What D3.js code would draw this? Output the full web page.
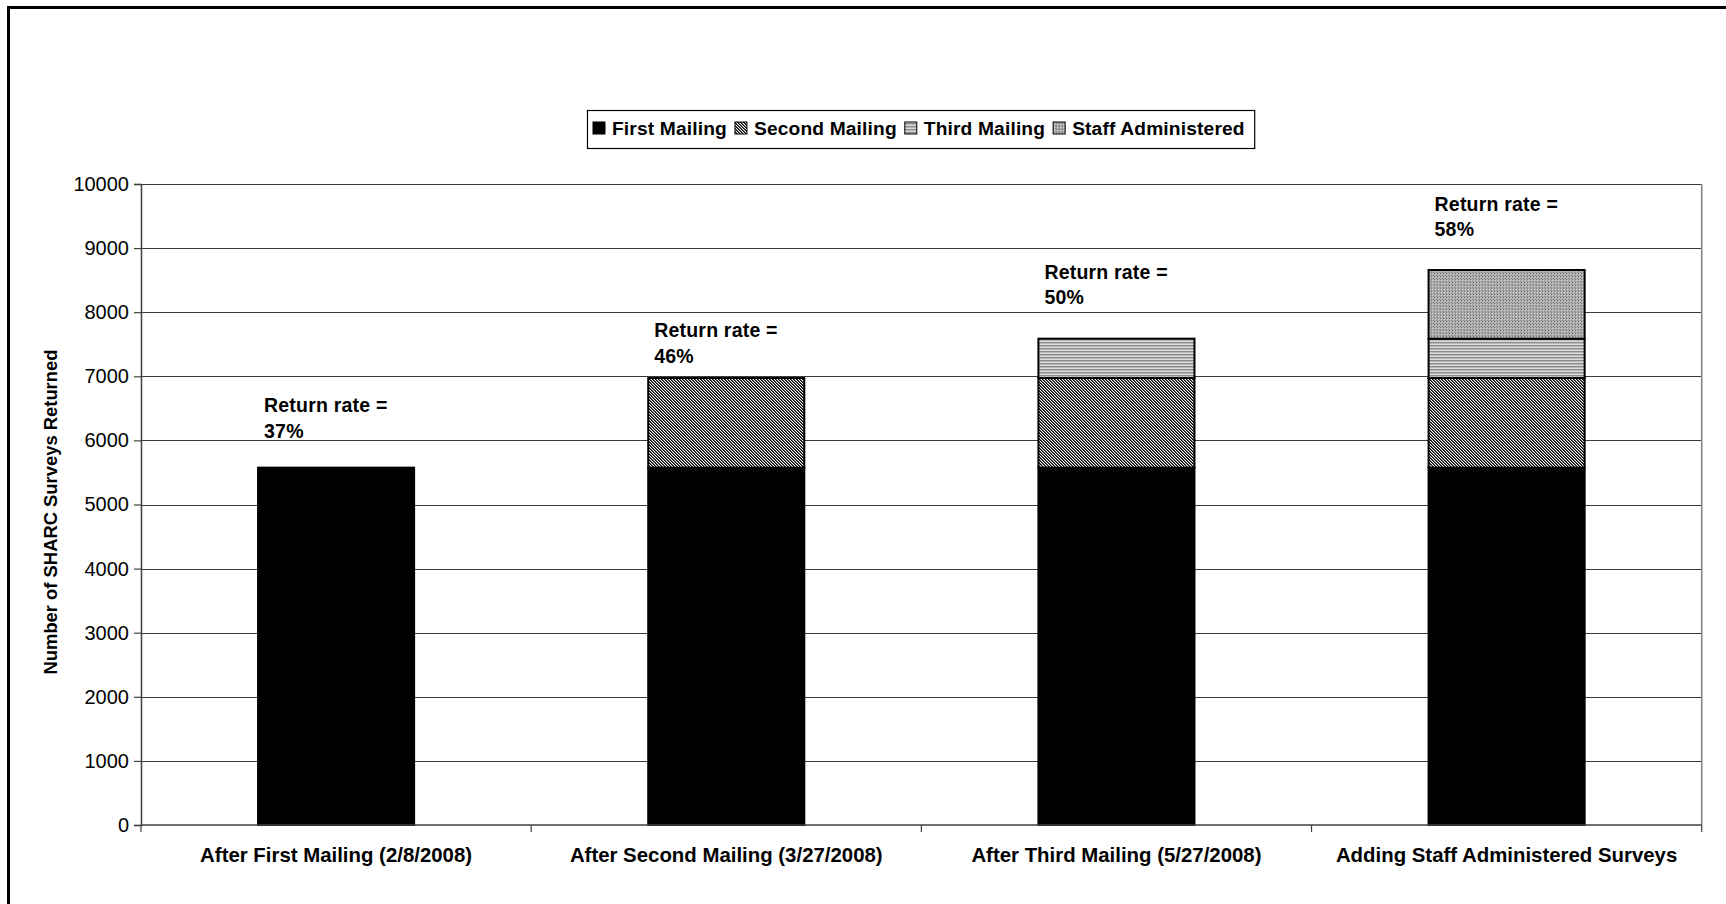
<!DOCTYPE html>
<html>
<head>
<meta charset="utf-8">
<script src="https://cdn.jsdelivr.net/npm/d3@7"></script>
<style>
  html, body { margin: 0; padding: 0; background: #fff; }
  svg { display: block; }
  text { font-family: "Liberation Sans", Arial, sans-serif; }
</style>
</head>
<body>
<svg id="chart" width="1726" height="904"></svg>
<script>
// ---- data ----
const categories = [
  "After First Mailing (2/8/2008)",
  "After Second Mailing (3/27/2008)",
  "After Third Mailing (5/27/2008)",
  "Adding Staff Administered Surveys"
];
const seriesNames = ["First Mailing", "Second Mailing", "Third Mailing", "Staff Administered"];
const firstMailing = [5575, 5575, 5575, 5575];
const secondMailing = [0, 1398, 1398, 1398];
const thirdMailing = [0, 0, 614, 614];
const staffAdministered = [0, 0, 0, 1071];
const returnRates = ["37%", "46%", "50%", "58%"];
const labelAnchor = [6440, 7610, 8520, 9585]; // value at first label line baseline
const yTicks = [0, 1000, 2000, 3000, 4000, 5000, 6000, 7000, 8000, 9000, 10000];

// ---- setup ----
const svg = d3.select("#chart");
const W = 1726, H = 904;
const plot = { left: 141, right: 1701.7, top: 184, bottom: 825 };

// outer border (right/bottom edges lie outside the picture)
svg.append("rect")
  .attr("x", 8.5).attr("y", 7.5)
  .attr("width", W + 20).attr("height", H + 20)
  .attr("fill", "none").attr("stroke", "#000").attr("stroke-width", 3);

// ---- patterns ----
const defs = svg.append("defs");
function pixelPattern(id, size, bg, pixels) {
  const p = defs.append("pattern").attr("id", id)
    .attr("patternUnits", "userSpaceOnUse")
    .attr("width", size[0]).attr("height", size[1]);
  p.append("rect").attr("width", size[0]).attr("height", size[1]).attr("fill", bg);
  pixels.forEach(px => p.append("rect")
    .attr("x", px[0]).attr("y", px[1]).attr("width", 1).attr("height", 1)
    .attr("fill", px[2]).attr("shape-rendering", "crispEdges"));
}
// second mailing: fine diagonal dither
{
  const px = [];
  for (let x = 0; x < 3; x++) for (let y = 0; y < 3; y++) {
    const m = ((x - y) % 3 + 3) % 3;
    if (m === 0) px.push([x, y, "#000"]);
    else if (m === 1) px.push([x, y, "#5a5a5a"]);
  }
  pixelPattern("pSecond", [3, 3], "#fff", px);
}
// third mailing: horizontal grey stripes
{
  const p = defs.append("pattern").attr("id", "pThird")
    .attr("patternUnits", "userSpaceOnUse").attr("width", 4).attr("height", 3);
  p.append("rect").attr("width", 4).attr("height", 3).attr("fill", "#dcdcdc");
  p.append("rect").attr("y", 0).attr("width", 4).attr("height", 1).attr("fill", "#8a8a8a");
  p.append("rect").attr("y", 1).attr("width", 4).attr("height", 1).attr("fill", "#b8b8b8");
}
// staff administered: dotted grey
pixelPattern("pStaff", [3, 3], "#a9a9a9", [
  [0, 0, "#6e6e6e"], [1, 1, "#d4d4d4"], [2, 2, "#8c8c8c"], [2, 0, "#c0c0c0"]
]);
const fills = ["#000", "url(#pSecond)", "url(#pThird)", "url(#pStaff)"];

// ---- scales ----
const x = d3.scaleBand().domain(categories)
  .range([plot.left, plot.right]).paddingInner(0.6).paddingOuter(0.3);
const band = d3.scaleBand().domain(categories).range([plot.left, plot.right]);
const y = d3.scaleLinear().domain([0, 10000]).range([plot.bottom, plot.top]);

// gridlines
svg.append("g").selectAll("line").data(yTicks.filter(t => t > 0)).join("line")
  .attr("x1", plot.left).attr("x2", plot.right)
  .attr("y1", d => Math.round(y(d)) + 0.5).attr("y2", d => Math.round(y(d)) + 0.5)
  .attr("stroke", "#3a3a3a").attr("stroke-width", 1.2);

// plot right border
svg.append("line")
  .attr("x1", plot.right).attr("x2", plot.right)
  .attr("y1", plot.top).attr("y2", plot.bottom)
  .attr("stroke", "#808080").attr("stroke-width", 1.5);

// ---- stacked bars ----
const table = categories.map((c, i) => ({
  cat: c,
  "First Mailing": firstMailing[i],
  "Second Mailing": secondMailing[i],
  "Third Mailing": thirdMailing[i],
  "Staff Administered": staffAdministered[i]
}));
const stacked = d3.stack().keys(seriesNames)(table);
svg.append("g").selectAll("g").data(stacked).join("g")
  .attr("fill", (d, i) => fills[i])
  .selectAll("rect").data(d => d.filter(s => s[1] - s[0] > 0)).join("rect")
  .attr("x", d => x(d.data.cat))
  .attr("width", x.bandwidth())
  .attr("y", d => y(d[1]))
  .attr("height", d => y(d[0]) - y(d[1]))
  .attr("stroke", "#000").attr("stroke-width", 2);

// ---- axes ----
const yAxis = svg.append("g").attr("transform", `translate(${plot.left},0)`)
  .call(d3.axisLeft(y).tickValues(yTicks).tickFormat(d3.format("d")).tickSize(7).tickPadding(5));
yAxis.select(".domain").attr("stroke", "#404040").attr("stroke-width", 1.5);
yAxis.selectAll(".tick line").attr("stroke", "#404040").attr("stroke-width", 1.2);
yAxis.selectAll(".tick text")
  .attr("font-family", "'Liberation Sans', Arial, sans-serif")
  .attr("font-size", 20).attr("fill", "#000");

// x axis line and ticks at band boundaries
svg.append("line")
  .attr("x1", plot.left).attr("x2", plot.right)
  .attr("y1", plot.bottom).attr("y2", plot.bottom)
  .attr("stroke", "#404040").attr("stroke-width", 1.5);
const bounds = categories.map(c => band(c)).concat([plot.right]);
svg.append("g").selectAll("line").data(bounds).join("line")
  .attr("x1", d => d).attr("x2", d => d)
  .attr("y1", plot.bottom).attr("y2", plot.bottom + 7)
  .attr("stroke", "#404040").attr("stroke-width", 1.2);
svg.append("g").selectAll("text").data(categories).join("text")
  .attr("x", d => band(d) + band.bandwidth() / 2)
  .attr("y", 862)
  .attr("text-anchor", "middle")
  .attr("font-size", 20.4).attr("font-weight", "bold")
  .text(d => d);

// y axis title
svg.append("text")
  .attr("transform", `translate(57,512) rotate(-90)`)
  .attr("text-anchor", "middle")
  .attr("font-size", 18.4).attr("font-weight", "bold")
  .text("Number of SHARC Surveys Returned");

// ---- return-rate labels ----
const lbl = svg.append("g").selectAll("text").data(categories).join("text")
  .attr("font-size", 19.5).attr("font-weight", "bold").attr("letter-spacing", 0.2)
  .attr("x", d => x(d) + 6)
  .attr("y", (d, i) => y(labelAnchor[i]));
lbl.append("tspan").text("Return rate =");
lbl.append("tspan").attr("x", d => x(d) + 6).attr("dy", 25.5).text((d, i) => returnRates[i]);

// ---- legend ----
const lg = svg.append("g");
const lgBox = lg.append("rect").attr("fill", "#fff").attr("stroke", "#000").attr("stroke-width", 1.2);
let cx = 593;
seriesNames.forEach((name, i) => {
  lg.append("rect").attr("x", cx).attr("y", 122).attr("width", 12).attr("height", 12)
    .attr("fill", fills[i]).attr("stroke", "#000").attr("stroke-width", 1);
  const t = lg.append("text").attr("x", cx + 19).attr("y", 134.5)
    .attr("font-size", 19.2).attr("font-weight", "bold").attr("letter-spacing", 0.15).text(name);
  cx = cx + 19 + t.node().getComputedTextLength() + 8;
});
lgBox.attr("x", 587.5).attr("y", 110.5).attr("width", cx - 587.5 + 2).attr("height", 38);
</script>
</body>
</html>
